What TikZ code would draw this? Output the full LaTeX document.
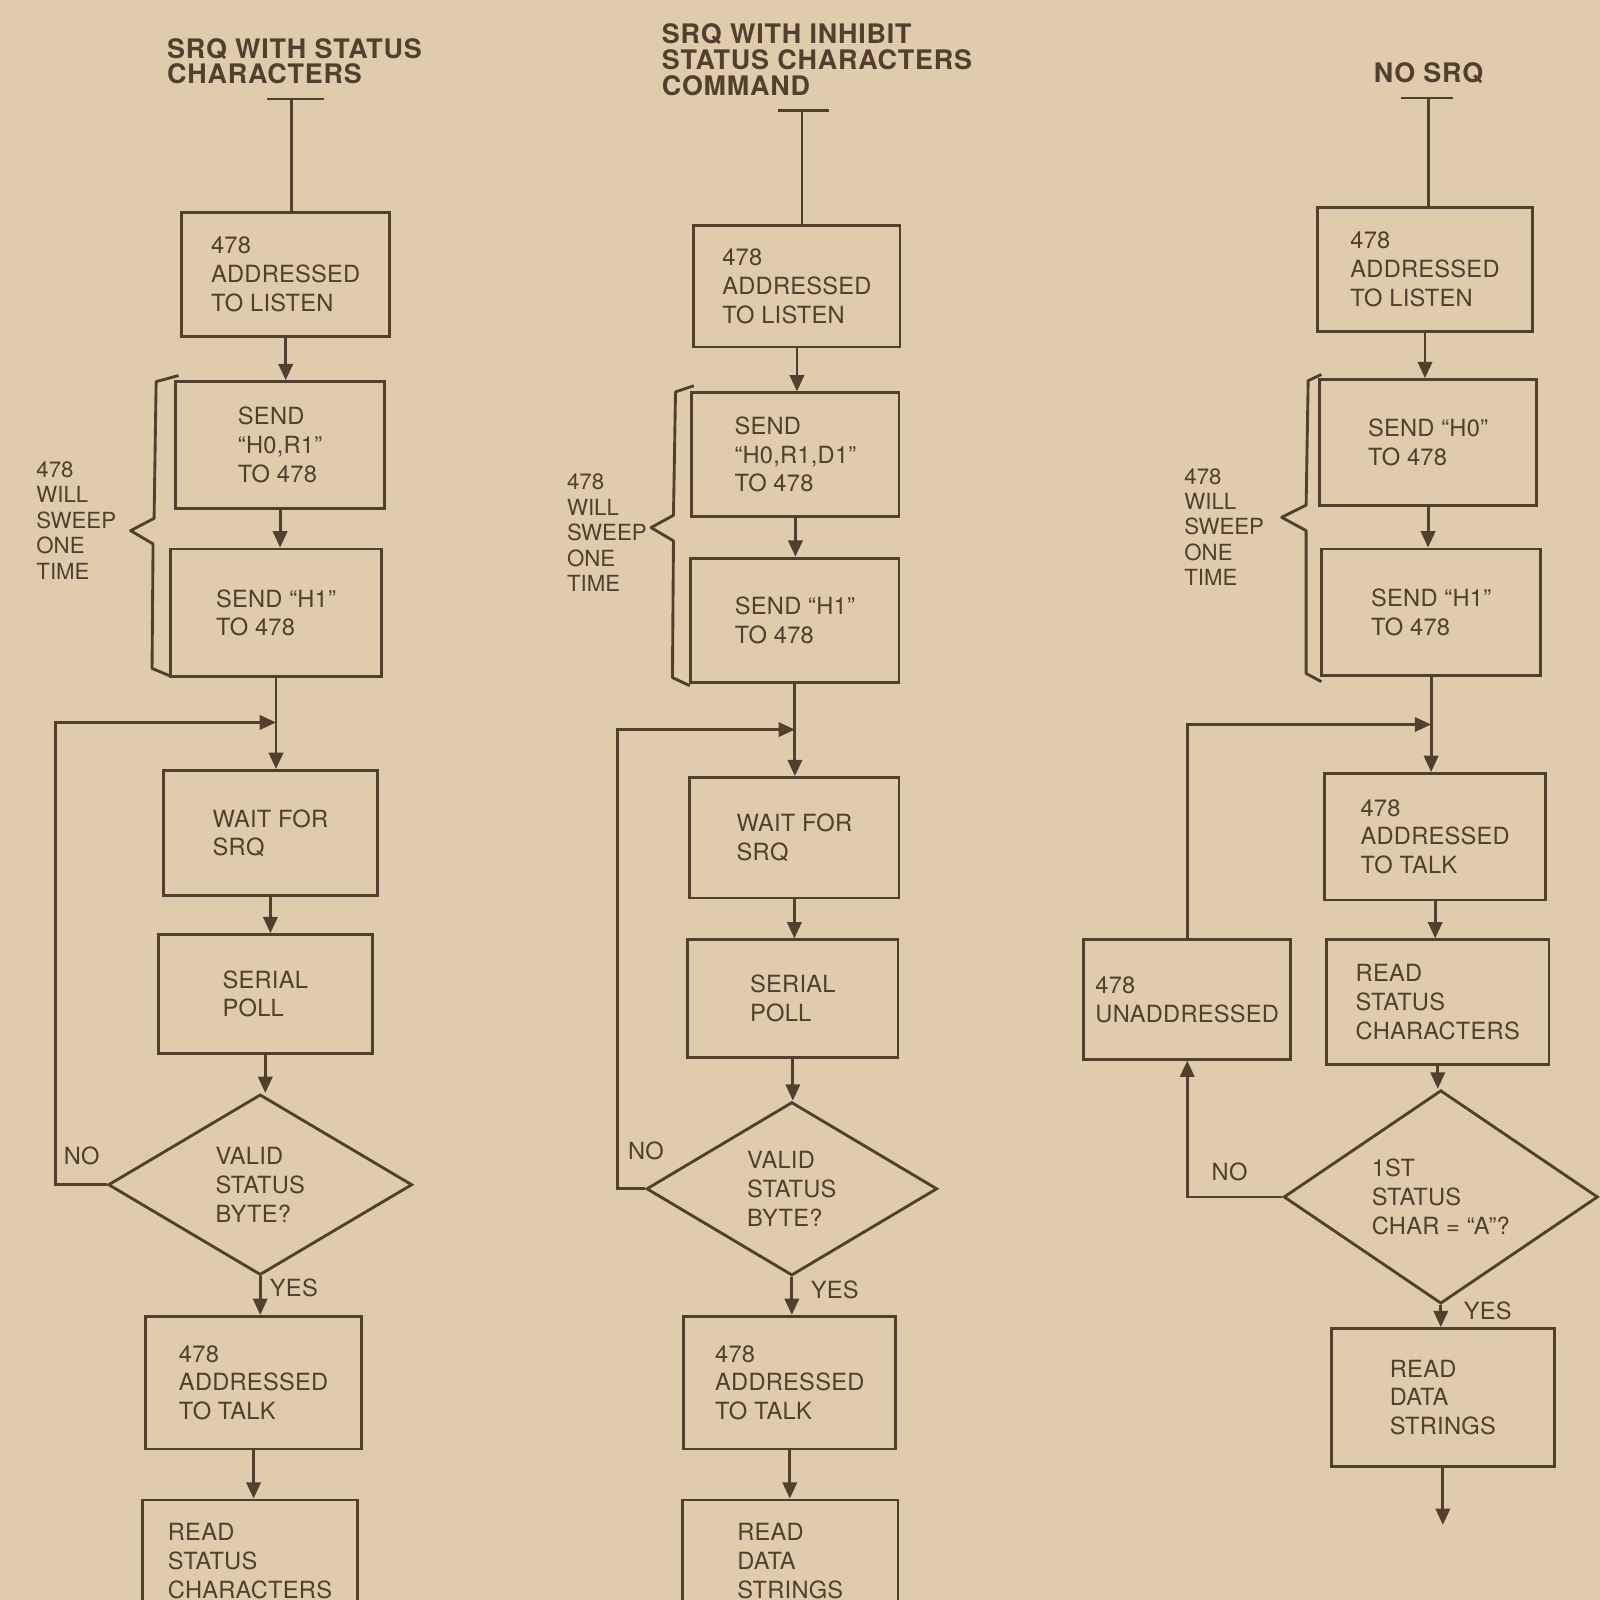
\documentclass[tikz,border=0pt]{standalone}
\usepackage{fontspec}
\setmainfont{TeX Gyre Heros}
\usetikzlibrary{arrows.meta,shapes.geometric,calc}
\definecolor{paper}{RGB}{225,203,173}
\definecolor{ink}{RGB}{82,64,46}
\begin{document}
\begin{tikzpicture}[x=0.1mm,y=-0.1mm,
  every node/.style={font=\fontsize{6.6}{8}\selectfont\addfontfeature{LetterSpace=1},text=ink},
  box/.style={draw=ink,line width=0.8pt,align=left,inner sep=1pt},
  test/.style={diamond,draw=ink,line width=0.8pt,align=left,inner sep=0pt},
  title/.style={font=\fontsize{7.5}{7.2}\selectfont\bfseries\addfontfeature{LetterSpace=3},align=left,anchor=west,inner sep=0pt},
  note/.style={align=left,anchor=west,inner sep=0pt,font=\fontsize{6.2}{7.1}\selectfont},
  ln/.style={draw=ink,line width=0.8pt},
  arr/.style={ln,-{Triangle[length=1.6mm,width=1.4mm]}}]
\useasboundingbox (0,0) rectangle (1568,1568);
\clip (0,0) rectangle (1568,1568);
\fill[paper] (0,0) rectangle (1568,1568);

% left column
\node[title] (t1) at (163,60) {SRQ WITH STATUS\\CHARACTERS};
\coordinate (s1) at (286,97);
\node[box,minimum width=20.4mm,minimum height=12.2mm] (a1) at (280,269) {478\\ADDRESSED\\TO LISTEN};
\node[box,minimum width=20.5mm,minimum height=12.4mm] (b1) at (274.5,436) {SEND\\``H0,R1''\\TO 478};
\node[box,minimum width=20.7mm,minimum height=12.5mm] (c1) at (270.5,600.5) {SEND ``H1''\\TO 478};
\node[box,minimum width=21mm,minimum height=12.3mm] (d1) at (265,816.5) {WAIT FOR\\SRQ};
\node[box,minimum width=21mm,minimum height=11.6mm] (e1) at (260,974) {SERIAL\\POLL};
\node[test,minimum width=29.8mm,minimum height=17.7mm] (f1) at (255,1161) {VALID\\STATUS\\BYTE?};
\node[box,minimum width=21.1mm,minimum height=13mm] (g1) at (248.5,1355) {478\\ADDRESSED\\TO TALK};
\node[box,minimum width=21mm,minimum height=12mm] (h1) at (245,1530) {READ\\STATUS\\CHARACTERS};
\node[note] (w1) at (35,510) {478\\WILL\\SWEEP\\ONE\\TIME};
\node[inner sep=0pt] (n1) at (80,1133) {NO};
\node[inner sep=0pt] (y1) at (288,1262) {YES};
\coordinate (j1) at (270.5,708);

\draw[ln] ($(s1)+(-24,0)$) -- ($(s1)+(32,0)$);
\draw[ln] (s1) -- (s1 |- a1.north);
\draw[arr] (a1.south) -- (a1.south |- b1.north);
\draw[arr] (b1.south) -- (b1.south |- c1.north);
\draw[arr] (c1.south) -- (c1.south |- d1.north);
\draw[arr] (d1.south) -- (d1.south |- e1.north);
\draw[arr] (e1.south) -- (e1.south |- f1.north);
\draw[arr] (f1.south) -- (f1.south |- g1.north);
\draw[arr] (g1.south) -- (g1.south |- h1.north);
\draw[arr] (f1.west) -- ++(-50,0) |- (j1);
\draw[ln,line join=round] (175,368) -- (153,374) -- (151,508) -- (128,520) -- (150,533) -- (149,655) -- (168,663);

% middle column
\node[title] (t2) at (648,58.5) {SRQ WITH INHIBIT\\STATUS CHARACTERS\\COMMAND};
\coordinate (s2) at (786,108);
\node[box,minimum width=20.2mm,minimum height=11.9mm] (a2) at (781,280.5) {478\\ADDRESSED\\TO LISTEN};
\node[box,minimum width=20.3mm,minimum height=12.1mm] (b2) at (779.5,445.5) {SEND\\``H0,R1,D1''\\TO 478};
\node[box,minimum width=20.4mm,minimum height=12.2mm] (c2) at (779,608) {SEND ``H1''\\TO 478};
\node[box,minimum width=20.5mm,minimum height=11.8mm] (d2) at (778.5,821) {WAIT FOR\\SRQ};
\node[box,minimum width=20.6mm,minimum height=11.5mm] (e2) at (777,978.5) {SERIAL\\POLL};
\node[test,minimum width=28.5mm,minimum height=17mm] (f2) at (776,1165) {VALID\\STATUS\\BYTE?};
\node[box,minimum width=20.8mm,minimum height=13mm] (g2) at (774,1355) {478\\ADDRESSED\\TO TALK};
\node[box,minimum width=21.1mm,minimum height=12mm] (h2) at (774.5,1530) {READ\\DATA\\STRINGS};
\node[note] (w2) at (555,522) {478\\WILL\\SWEEP\\ONE\\TIME};
\node[inner sep=0pt] (n2) at (633,1128) {NO};
\node[inner sep=0pt] (y2) at (818,1264) {YES};
\coordinate (j2) at (779,715);

\draw[ln] ($(s2)+(-24,0)$) -- ($(s2)+(26,0)$);
\draw[ln] (s2) -- (s2 |- a2.north);
\draw[arr] (a2.south) -- (a2.south |- b2.north);
\draw[arr] (b2.south) -- (b2.south |- c2.north);
\draw[arr] (c2.south) -- (c2.south |- d2.north);
\draw[arr] (d2.south) -- (d2.south |- e2.north);
\draw[arr] (e2.south) -- (e2.south |- f2.north);
\draw[arr] (f2.south) -- (f2.south |- g2.north);
\draw[arr] (g2.south) -- (g2.south |- h2.north);
\draw[arr] (f2.west) -- ++(-27,0) |- (j2);
\draw[ln,line join=round] (680,378) -- (662,384) -- (660,505) -- (638,517) -- (660,530) -- (659,664) -- (676,672);

% right column
\node[title,anchor=center] (t3) at (1400,72) {NO SRQ};
\coordinate (s3) at (1400,96);
\node[box,minimum width=21.1mm,minimum height=12.2mm] (a3) at (1396.5,264) {478\\ADDRESSED\\TO LISTEN};
\node[box,minimum width=21.3mm,minimum height=12.3mm] (b3) at (1399.5,433.5) {SEND ``H0''\\TO 478};
\node[box,minimum width=21.5mm,minimum height=12.4mm] (c3) at (1402.5,600) {SEND ``H1''\\TO 478};
\node[box,minimum width=21.7mm,minimum height=12.4mm] (d3) at (1406.5,820) {478\\ADDRESSED\\TO TALK};
\node[box,minimum width=21.8mm,minimum height=12.2mm] (e3) at (1409,982) {READ\\STATUS\\CHARACTERS};
\node[box,minimum width=20.3mm,minimum height=11.7mm] (u3) at (1163.5,979.5) {478\\UNADDRESSED};
\node[test,minimum width=30.8mm,minimum height=17.7mm] (f3) at (1412,1173) {1ST\\STATUS\\CHAR = ``A''?};
\node[box,minimum width=21.8mm,minimum height=13.5mm] (g3) at (1414,1369.5) {READ\\DATA\\STRINGS};
\node[note] (w3) at (1160,516.5) {478\\WILL\\SWEEP\\ONE\\TIME};
\node[inner sep=0pt] (n3) at (1205,1148) {NO};
\node[inner sep=0pt] (y3) at (1458,1285) {YES};
\coordinate (j3) at (1402.5,710);

\draw[ln] ($(s3)+(-27,0)$) -- ($(s3)+(24,0)$);
\draw[ln] (s3) -- (s3 |- a3.north);
\draw[arr] (a3.south) -- (a3.south |- b3.north);
\draw[arr] (b3.south) -- (b3.south |- c3.north);
\draw[arr] (c3.south) -- (c3.south |- d3.north);
\draw[arr] (d3.south) -- (d3.south |- e3.north);
\draw[arr] (e3.south) -- (e3.south |- f3.north);
\draw[arr] (f3.south) -- (f3.south |- g3.north);
\draw[arr] (g3.south) -- ++(0,56);
\draw[arr] (f3.west) -| (u3.south);
\draw[arr] (u3.north) |- (j3);
\draw[ln,line join=round] (1295,367) -- (1282,373) -- (1280,495) -- (1256,507) -- (1280,520) -- (1280,660) -- (1295,668);
\end{tikzpicture}
\end{document}
